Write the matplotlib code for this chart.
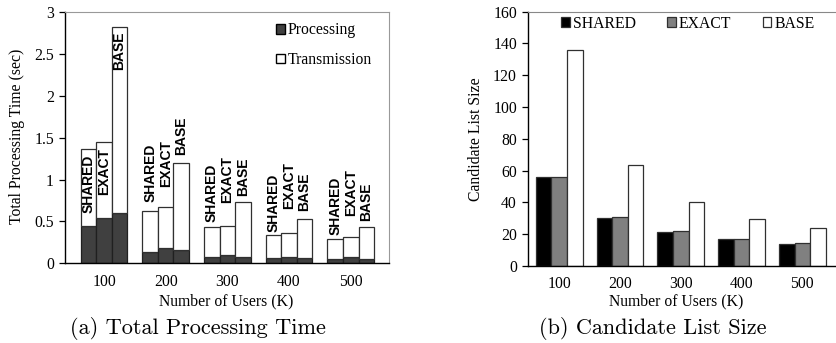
import matplotlib
matplotlib.use("Agg")
import matplotlib.pyplot as plt
import numpy as np
from matplotlib.patches import Patch

users = ["100", "200", "300", "400", "500"]
methods = ["SHARED", "EXACT", "BASE"]

# Total processing time (sec): processing part and overall total per method
proc_shared = [0.45, 0.13, 0.07, 0.06, 0.05]
proc_exact = [0.54, 0.18, 0.10, 0.08, 0.07]
proc_base = [0.60, 0.16, 0.08, 0.06, 0.05]
total_shared = [1.37, 0.63, 0.43, 0.34, 0.29]
total_exact = [1.45, 0.67, 0.45, 0.36, 0.31]
total_base = [2.82, 1.20, 0.73, 0.53, 0.43]

# Candidate list size
cand_shared = [55.8, 30.4, 21.4, 17.0, 14.0]
cand_exact = [55.8, 30.8, 22.0, 17.2, 14.5]
cand_base = [136.0, 63.8, 40.0, 29.4, 23.7]

left_yticks = [0, 0.5, 1, 1.5, 2, 2.5, 3]
left_ytick_labels = ["0", "0.5", "1", "1.5", "2", "2.5", "3"]
right_yticks = [0, 20, 40, 60, 80, 100, 120, 140, 160]

SERIF = ["Liberation Serif", "DejaVu Serif"]
FS = 11.3

fig = plt.figure(figsize=(8.36, 3.43), dpi=100)
W, H = 836, 343

def px_axes(x0, x1, ytop, ybot):
    return fig.add_axes([x0 / W, (H - ybot) / H, (x1 - x0) / W, (ybot - ytop) / H])

# ---------------- (a) Total processing time ----------------
ax1 = px_axes(65, 389, 12.3, 263.3)
x = np.arange(len(users))
bw = 0.252
offsets = [-bw, 0, bw]
procs = [proc_shared, proc_exact, proc_base]
totals = [total_shared, total_exact, total_base]
for off, p, t in zip(offsets, procs, totals):
    p = np.array(p)
    t = np.array(t)
    ax1.bar(x + off, p, bw, color="#404040", edgecolor="#202020", linewidth=0.9)
    ax1.bar(x + off, t - p, bw, bottom=p, color="white", edgecolor="#303030", linewidth=0.9)

# vertical method labels (centre heights)
label_centres = [
    [0.95, 1.10, 2.54],
    [1.086, 1.195, 1.52],
    [0.847, 1.002, 1.03],
    [0.719, 0.926, 0.853],
    [0.687, 0.847, 0.741],
]
for gi in range(len(users)):
    for mi, (off, name) in enumerate(zip(offsets, methods)):
        ax1.text(gi + off, label_centres[gi][mi], name, rotation=90,
                 ha="center", va="center", fontsize=10, fontweight="bold",
                 family=["Liberation Sans", "DejaVu Sans"])

ax1.set_xlim(-0.632, 4.62)
ax1.set_ylim(0, 3)
ax1.set_xticks(x)
ax1.set_xticklabels(users, family=SERIF, fontsize=FS)
ax1.set_yticks(left_yticks)
ax1.set_yticklabels(left_ytick_labels, family=SERIF, fontsize=FS)
ax1.tick_params(axis="x", length=0, pad=8)
ax1.tick_params(axis="y", length=4, width=0.9, pad=4, direction="out")
for s in ["top", "right"]:
    ax1.spines[s].set_color("#999999")
for s in ["left", "bottom"]:
    ax1.spines[s].set_color("black")
    ax1.spines[s].set_linewidth(1.0)

leg1 = ax1.legend(
    handles=[Patch(facecolor="#404040", edgecolor="black", label="Processing"),
             Patch(facecolor="white", edgecolor="black", label="Transmission")],
    loc="upper left", bbox_to_anchor=((276 - 65) / 324, (263.3 - 22.5) / 251),
    frameon=False, handlelength=0.55, handleheight=0.55, handletextpad=0.2,
    labelspacing=0.85, borderpad=0, borderaxespad=0,
    prop={"family": SERIF, "size": FS})

fig.text(17 / W, 1 - 136.7 / H, "Total Processing Time (sec)", rotation=90,
         ha="center", va="center", family=SERIF, fontsize=FS)
fig.text(226 / W, 1 - 301.7 / H, "Number of Users (K)",
         ha="center", va="center", family=SERIF, fontsize=FS)
fig.text(198 / W, 1 - 328 / H, "(a) Total Processing Time",
         ha="center", va="center", family="cmr10", fontsize=16)

# ---------------- (b) Candidate list size ----------------
ax2 = px_axes(528, 840, 11.7, 266)
cands = [cand_shared, cand_exact, cand_base]
colors = ["black", "#808080", "white"]
bw2 = 0.257
offs2 = [-bw2, 0, bw2]
for off, c, col, name in zip(offs2, cands, colors, methods):
    ax2.bar(x + off, c, bw2, color=col, edgecolor="#303030", linewidth=0.9, label=name)

ax2.set_xlim(-0.515, 4.62)
ax2.set_ylim(0, 160)
ax2.set_xticks(x)
ax2.set_xticklabels(users, family=SERIF, fontsize=FS)
ax2.set_yticks(right_yticks)
ax2.set_yticklabels([str(v) for v in right_yticks], family=SERIF, fontsize=FS)
ax2.tick_params(axis="x", length=0, pad=7.5)
ax2.tick_params(axis="y", length=4, width=0.9, pad=4, direction="out")
ax2.spines["top"].set_color("#888888")
ax2.spines["right"].set_visible(False)
for s in ["left", "bottom"]:
    ax2.spines[s].set_color("black")
    ax2.spines[s].set_linewidth(1.0)

ax2.legend(loc="upper left", bbox_to_anchor=((561 - 528) / 312, (266 - 15.5) / 254.3),
           ncol=3, frameon=False, handlelength=0.55, handleheight=0.55,
           handletextpad=0.2, columnspacing=2.0, borderpad=0, borderaxespad=0,
           prop={"family": SERIF, "size": FS})

fig.text(476 / W, 1 - 139 / H, "Candidate List Size", rotation=90,
         ha="center", va="center", family=SERIF, fontsize=FS)
fig.text(676 / W, 1 - 301.7 / H, "Number of Users (K)",
         ha="center", va="center", family=SERIF, fontsize=FS)
fig.text(652.5 / W, 1 - 328 / H, "(b) Candidate List Size",
         ha="center", va="center", family="cmr10", fontsize=16)

fig.savefig("out.png", dpi=100)
